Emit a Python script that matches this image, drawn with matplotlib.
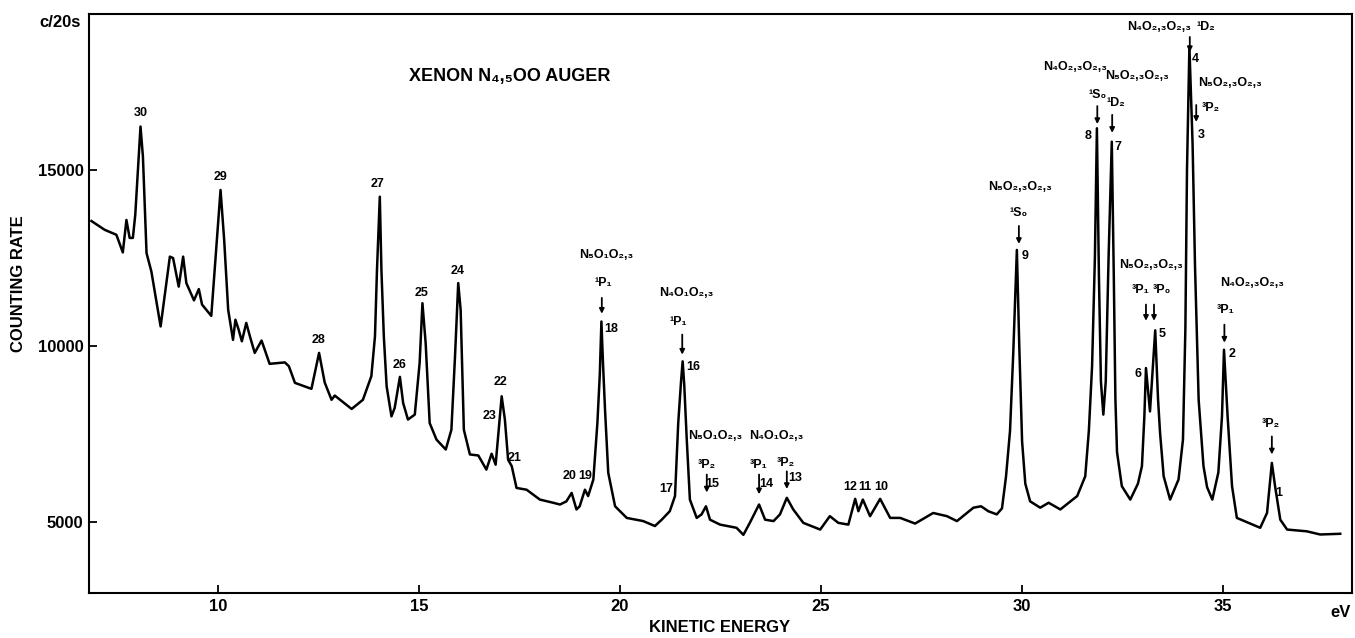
import matplotlib
matplotlib.use("Agg")
import matplotlib.pyplot as plt

plt.rcParams["font.family"] = ["Liberation Sans", "DejaVu Sans"]
plt.rcParams["font.weight"] = "bold"

# --- spectrum (kinetic energy in eV, counts per 20 s) ---
energy_ev = [
    6.86, 7.19, 7.48, 7.64, 7.73, 7.81, 7.89, 7.95, 8.08, 8.14,
    8.23, 8.35, 8.58, 8.81, 8.89, 9.03, 9.14, 9.22, 9.41, 9.53,
    9.61, 9.84, 10.07, 10.16, 10.26, 10.38, 10.44, 10.52, 10.60, 10.71,
    10.80, 10.92, 11.09, 11.29, 11.67, 11.77, 11.92, 12.33, 12.52, 12.66,
    12.83, 12.91, 13.33, 13.61, 13.82, 13.91, 13.96, 14.03, 14.07, 14.13,
    14.20, 14.32, 14.40, 14.53, 14.61, 14.73, 14.90, 15.02, 15.09, 15.17,
    15.27, 15.44, 15.67, 15.81, 15.90, 15.98, 16.04, 16.12, 16.27, 16.48,
    16.68, 16.81, 16.91, 17.06, 17.14, 17.22, 17.31, 17.43, 17.68, 18.01,
    18.34, 18.51, 18.67, 18.80, 18.92, 19.00, 19.13, 19.21, 19.34, 19.44,
    19.50, 19.54, 19.58, 19.63, 19.71, 19.88, 20.17, 20.58, 20.87, 21.04,
    21.24, 21.37, 21.45, 21.52, 21.56, 21.60, 21.66, 21.74, 21.91, 22.03,
    22.14, 22.24, 22.49, 22.90, 23.07, 23.23, 23.46, 23.61, 23.82, 23.98,
    24.15, 24.31, 24.56, 24.98, 25.22, 25.43, 25.68, 25.85, 25.93, 26.04,
    26.22, 26.47, 26.72, 26.97, 27.34, 27.79, 28.13, 28.38, 28.79, 28.98,
    29.16, 29.37, 29.50, 29.60, 29.70, 29.78, 29.87, 29.93, 30.00, 30.08,
    30.20, 30.45, 30.66, 30.95, 31.37, 31.57, 31.66, 31.74, 31.81, 31.86,
    31.91, 31.96, 32.02, 32.08, 32.15, 32.23, 32.28, 32.32, 32.36, 32.48,
    32.69, 32.88, 32.98, 33.04, 33.08, 33.18, 33.31, 33.38, 33.43, 33.52,
    33.68, 33.89, 34.00, 34.06, 34.10, 34.16, 34.24, 34.30, 34.39, 34.51,
    34.60, 34.73, 34.88, 34.97, 35.02, 35.11, 35.22, 35.34, 35.63, 35.92,
    36.09, 36.21, 36.29, 36.42, 36.59, 37.08, 37.41, 37.91,
]
counts = [
    13550, 13300, 13160, 12660, 13580, 13070, 13070, 13730, 16230, 15380,
    12640, 12120, 10560, 12540, 12500, 11690, 12540, 11790, 11300, 11620,
    11180, 10860, 14430, 13020, 11030, 10180, 10750, 10470, 10140, 10660,
    10280, 9810, 10160, 9500, 9540, 9430, 8960, 8790, 9810, 8970,
    8480, 8600, 8220, 8480, 9150, 10280, 12170, 14240, 12170, 10280,
    8860, 8010, 8250, 9130, 8390, 7920, 8060, 9520, 11220, 10090,
    7820, 7350, 7070, 7630, 9710, 11790, 11030, 7630, 6930, 6900,
    6500, 6950, 6640, 8580, 7920, 6780, 6600, 5980, 5930, 5650,
    5560, 5510, 5600, 5840, 5370, 5460, 5930, 5750, 6220, 7820,
    9200, 10700, 9500, 8200, 6410, 5460, 5130, 5040, 4900, 5080,
    5320, 5750, 7820, 9000, 9570, 8900, 7400, 5650, 5130, 5230,
    5460, 5080, 4940, 4850, 4650, 4990, 5510, 5080, 5040, 5230,
    5700, 5370, 4990, 4800, 5180, 4990, 4940, 5670, 5320, 5650,
    5180, 5670, 5130, 5130, 4970, 5270, 5180, 5040, 5420, 5460,
    5320, 5230, 5400, 6300, 7600, 9800, 12730, 10000, 7300, 6100,
    5600, 5420, 5560, 5370, 5750, 6310, 7600, 9430, 12500, 16180,
    12000, 9000, 8060, 9000, 12500, 15800, 12000, 8500, 7000, 6030,
    5650, 6100, 6600, 8000, 9380, 8150, 10450, 8500, 7550, 6310,
    5650, 6220, 7350, 10500, 15000, 18500, 15700, 12250, 8480, 6600,
    6000, 5650, 6420, 8010, 9900, 8010, 6030, 5130, 4990, 4850,
    5270, 6690, 6030, 5080, 4800, 4750, 4660, 4680,
]

# peak numbers and where their labels sit
peak_ids = ["30", "29", "28", "27", "26", "25", "24", "23", "22", "21",
            "20", "19", "18", "17", "16", "15", "14", "13", "12", "11",
            "10", "9", "8", "7", "6", "5", "4", "3", "2", "1"]
peak_label_ev = [8.08, 10.07, 12.51, 13.98, 14.51, 15.08, 15.97, 16.75, 17.04, 17.37,
                 18.76, 19.13, 19.78, 21.14, 21.82, 22.29, 23.63, 24.35, 25.72, 26.09,
                 26.49, 30.08, 31.65, 32.38, 32.89, 33.48, 34.30, 34.45, 35.22, 36.39]
peak_label_counts = [16600, 14800, 10180, 14600, 9480, 11520, 12140, 8030, 8990, 6840,
                     6330, 6330, 10500, 5960, 9420, 6080, 6080, 6270, 6020, 6020,
                     6020, 12560, 15960, 15650, 9220, 10350, 18150, 15990, 9790, 5850]

# Auger transition assignments
transitions = ["N₅O₁O₂,₃", "N₄O₁O₂,₃", "N₅O₁O₂,₃", "N₄O₁O₂,₃", "N₅O₂,₃O₂,₃",
               "N₄O₂,₃O₂,₃", "N₅O₂,₃O₂,₃", "N₅O₂,₃O₂,₃", "N₄O₂,₃O₂,₃",
               "N₅O₂,₃O₂,₃", "N₄O₂,₃O₂,₃"]
transition_ev = [19.65, 21.64, 22.36, 23.88, 29.95, 31.33, 32.85, 33.21, 33.40, 35.17, 35.72]
transition_counts = [12590, 11520, 7440, 7440, 14520, 17920, 17660, 12310, 19050, 17470, 11800]

terms = ["¹P₁", "¹P₁", "³P₂", "³P₁", "³P₂", "¹S₀", "¹S₀", "¹D₂", "³P₁", "³P₀",
         "¹D₂", "³P₂", "³P₁", "³P₂"]
term_ev = [19.58, 21.44, 22.16, 23.46, 24.13, 29.90, 31.87, 32.34, 32.94, 33.48,
           34.58, 34.68, 35.05, 36.19]
term_counts = [11800, 10690, 6640, 6640, 6700, 13780, 17130, 16900, 11600, 11600,
               19050, 16760, 11030, 7780]

arrow_ev = [19.55, 21.55, 22.16, 23.46, 24.15, 29.92, 31.87, 32.24, 33.08, 33.28,
            34.17, 34.33, 35.03, 36.21]
arrow_from = [11370, 10330, 6360, 6360, 6450, 13410, 16810, 16560, 11180, 11180,
              18770, 16840, 10610, 7440]
arrow_to = [10920, 9760, 5850, 5800, 5950, 12900, 16300, 16050, 10720, 10720,
            18340, 16360, 10100, 6930]

# --- plotting ---
fig = plt.figure(figsize=(13.55, 6.38), dpi=100)
ax = fig.add_axes([0.0657, 0.0705, 0.932, 0.9075])

ax.plot(energy_ev, counts, color="black", lw=1.8, solid_joinstyle="round")

for lab, e, c in zip(peak_ids, peak_label_ev, peak_label_counts):
    ax.text(e, c, lab, ha="center", va="center", fontsize=9)

for lab, e, c in zip(transitions, transition_ev, transition_counts):
    ax.text(e, c, lab, ha="center", va="center", fontsize=9)

for lab, e, c in zip(terms, term_ev, term_counts):
    ax.text(e, c, lab, ha="center", va="center", fontsize=9)

for e, c0, c1 in zip(arrow_ev, arrow_from, arrow_to):
    ax.annotate("", xy=(e, c1), xytext=(e, c0),
                arrowprops=dict(arrowstyle="-|>", color="black", lw=1.3,
                                mutation_scale=7, shrinkA=0, shrinkB=0))

ax.text(17.26, 17640, "XENON N₄,₅OO AUGER", ha="center", va="center", fontsize=13)

ax.set_xlim(6.8, 38.2)
ax.set_ylim(3000, 19420)
ax.set_xticks([10, 15, 20, 25, 30, 35])
ax.set_yticks([5000, 10000, 15000])
ax.tick_params(direction="in", length=6, width=1.3, labelsize=12, pad=4)
for s in ax.spines.values():
    s.set_linewidth(1.5)

fig.text(0.0443, 0.9655, "c/20s", ha="center", va="center", fontsize=12)
fig.text(0.0133, 0.556, "COUNTING RATE", ha="center", va="center", rotation=90, fontsize=12)
fig.text(0.531, 0.0157, "KINETIC ENERGY", ha="center", va="center", fontsize=12)
fig.text(0.989, 0.0405, "eV", ha="center", va="center", fontsize=12)

fig.savefig("out.png", dpi=100)
